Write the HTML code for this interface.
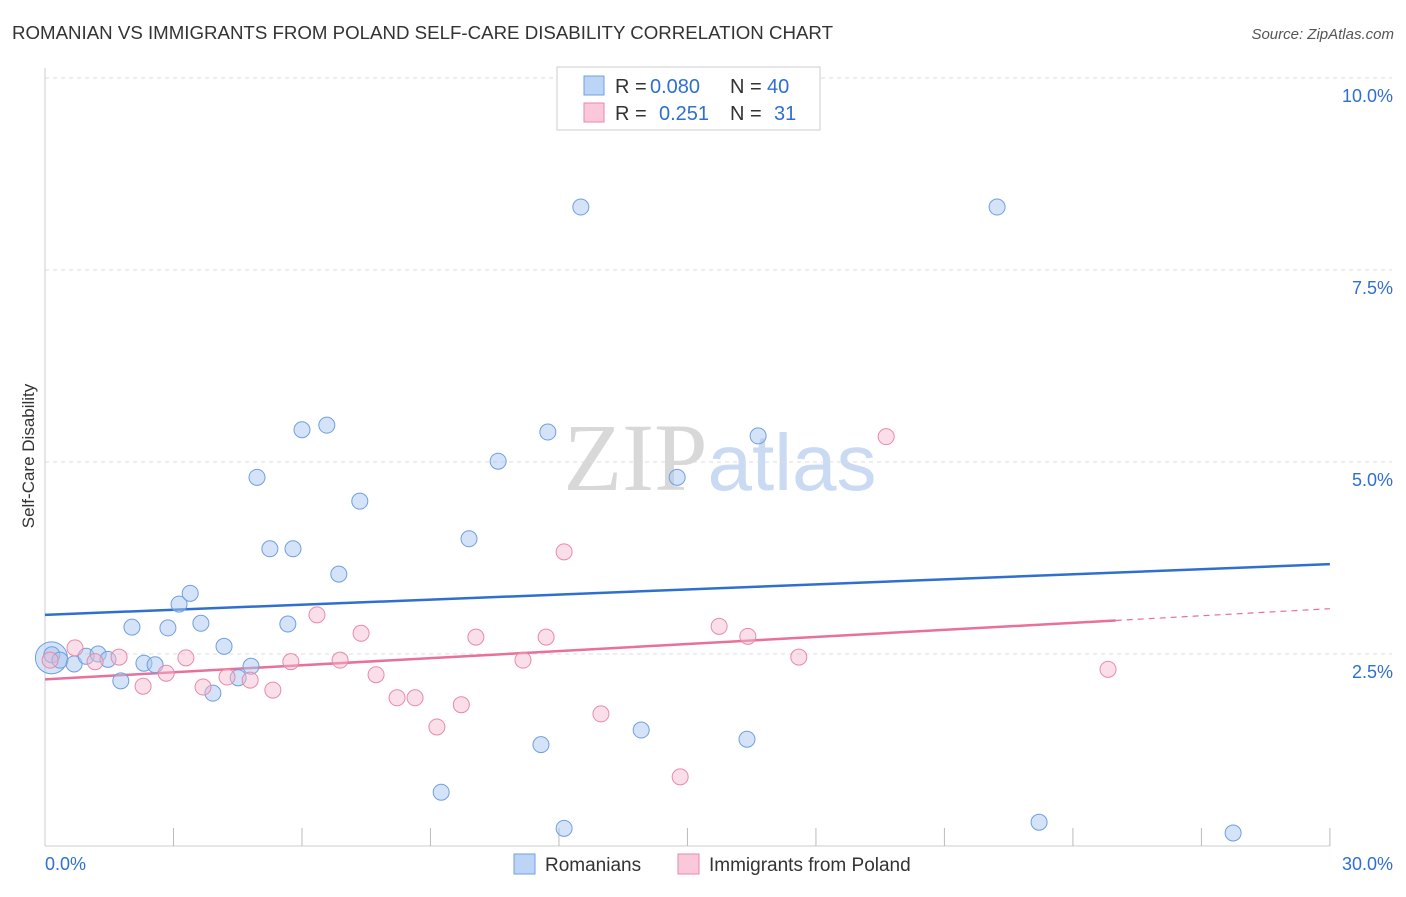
<!DOCTYPE html>
<html><head><meta charset="utf-8"><style>
body{margin:0;background:#fff;font-family:"Liberation Sans",sans-serif;}
svg text{font-family:"Liberation Sans",sans-serif;}
</style></head><body>
<svg id="chart" width="1406" height="892" xmlns="http://www.w3.org/2000/svg">
<text x="12" y="39" font-size="18" fill="#333" textLength="821" lengthAdjust="spacingAndGlyphs">ROMANIAN VS IMMIGRANTS FROM POLAND SELF-CARE DISABILITY CORRELATION CHART</text>
<text x="1394" y="39" font-size="15" fill="#555" text-anchor="end" font-style="italic">Source: ZipAtlas.com</text>
<text x="720" y="490" font-size="96" text-anchor="middle"><tspan fill="#d8d8d8" font-family="Liberation Serif">ZIP</tspan><tspan fill="#c9daf2" font-size="80">atlas</tspan></text>
<g id="grid"></g>
<g id="axes"></g>
<g id="lines"></g>
<g id="pts"></g>
<text transform="translate(34,456) rotate(-90)" font-size="17" fill="#333" text-anchor="middle">Self-Care Disability</text>
<g>
<rect x="557" y="67" width="263" height="63" fill="#fff" stroke="#ccc"/>
<rect x="584" y="76" width="20" height="19" fill="#bcd4f5" stroke="#6f9fe0"/>
<rect x="584" y="103" width="20" height="19" fill="#fac8d8" stroke="#e88aa8"/>
<text x="615" y="93" font-size="20" fill="#333">R =</text>
<text x="650" y="93" font-size="20" fill="#2f6fd0">0.080</text>
<text x="730" y="93" font-size="20" fill="#333">N =</text>
<text x="767" y="93" font-size="20" fill="#2f6fd0">40</text>
<text x="615" y="120" font-size="20" fill="#333">R =</text>
<text x="659" y="120" font-size="20" fill="#2f6fd0">0.251</text>
<text x="730" y="120" font-size="20" fill="#333">N =</text>
<text x="774" y="120" font-size="20" fill="#2f6fd0">31</text>
</g>
<g>
<rect x="514" y="854" width="21" height="20" fill="#bcd4f5" stroke="#6f9fe0"/>
<text x="545" y="871" font-size="19" fill="#333">Romanians</text>
<rect x="678" y="854" width="21" height="20" fill="#fac8d8" stroke="#e88aa8"/>
<text x="709" y="871" font-size="19" fill="#333">Immigrants from Poland</text>
</g>
</svg>
<script>
const blueX=[0.16,0.35,0.68,0.96,1.24,1.47,1.77,2.03,2.31,2.57,2.87,3.13,3.39,3.64,3.92,4.18,4.51,4.81,4.95,5.25,5.67,5.79,6.0,6.58,6.86,7.35,9.25,9.9,10.58,11.58,11.74,12.12,12.51,13.92,14.76,16.39,16.65,22.23,23.21,27.74];
const blueY=[2.49,2.42,2.37,2.47,2.5,2.43,2.15,2.85,2.38,2.36,2.84,3.15,3.29,2.9,1.99,2.6,2.19,2.34,4.8,3.87,2.89,3.87,5.42,5.48,3.54,4.49,0.7,4.0,5.01,1.32,5.39,0.23,8.32,1.51,4.8,1.39,5.34,8.32,0.31,0.17];
const pinkX=[0.12,0.7,1.17,1.73,2.29,2.83,3.29,3.69,4.25,4.79,5.32,5.74,6.35,6.89,7.38,7.73,8.22,8.64,9.15,9.72,10.06,11.16,11.7,12.12,12.98,14.83,15.74,16.41,17.6,19.64,24.82];
const pinkY=[2.42,2.58,2.4,2.46,2.08,2.25,2.45,2.07,2.2,2.16,2.03,2.4,3.01,2.42,2.77,2.23,1.93,1.93,1.55,1.84,2.72,2.42,2.72,3.83,1.72,0.9,2.86,2.73,2.46,5.33,2.3];
const blueTrend=[3.01,3.67];
const pinkTrend=[2.17,3.09];
const yTicks=[2.5,5.0,7.5,10.0];
const xTicks=[3,6,9,12,15,18,21,24,27,30];
const NS="http://www.w3.org/2000/svg";
const sx=v=>45+v*42.83, sy=v=>846-v*76.8;
function mk(tag,attrs,parent){const e=document.createElementNS(NS,tag);for(const k in attrs)e.setAttribute(k,attrs[k]);document.getElementById(parent).appendChild(e);return e;}
yTicks.forEach(t=>{
 const l=mk('line',{x1:45,x2:1392,y1:sy(t),y2:sy(t),stroke:'#ddd','stroke-dasharray':'4,4'},'grid');
 
 
 const tx=mk('text',{x:1393,y:sy(t)+24,'font-size':18,fill:'#2f6fd0','text-anchor':'end'},'grid');
 tx.textContent=t.toFixed(1)+'%';
 
 
});
const ax=mk('line',{x1:45,x2:45,y1:68,y2:846,stroke:'#ccc'},'axes');


const bx=mk('line',{x1:45,x2:1330,y1:846,y2:846,stroke:'#ccc'},'axes');


xTicks.forEach(t=>{
 const l=mk('line',{x1:sx(t),x2:sx(t),y1:828,y2:846,stroke:'#bbb'},'axes');
 
 
});
const x0=mk('text',{x:45,y:870,'font-size':18,fill:'#2f6fd0'},'axes');x0.textContent='0.0%';


const x1=mk('text',{x:1393,y:870,'font-size':18,fill:'#2f6fd0','text-anchor':'end'},'axes');x1.textContent='30.0%';


const bl=mk('line',{x1:sx(0),y1:sy(blueTrend[0]),x2:sx(30),y2:sy(blueTrend[1]),stroke:'#2f6fd0','stroke-width':2.5},'lines');


const pAt=x=>pinkTrend[0]+(pinkTrend[1]-pinkTrend[0])*x/30;
const pl=mk('line',{x1:sx(0),y1:sy(pAt(0)),x2:sx(25),y2:sy(pAt(25)),stroke:'#e8709a','stroke-width':2.5},'lines');


const pd=mk('line',{x1:sx(25),y1:sy(pAt(25)),x2:sx(30),y2:sy(pAt(30)),stroke:'#e8709a','stroke-width':1.2,'stroke-dasharray':'6,5'},'lines');


const big=mk('circle',{cx:sx(0.15),cy:sy(2.45),r:16,fill:'rgba(169,200,240,0.5)',stroke:'#6f9fe0'},'pts');


blueX.forEach((x,i)=>{
 const c=mk('circle',{cx:sx(x),cy:sy(blueY[i]),r:8,fill:'rgba(169,200,240,0.5)',stroke:'#6f9fe0','stroke-width':1},'pts');
 
 
});
pinkX.forEach((x,i)=>{
 const c=mk('circle',{cx:sx(x),cy:sy(pinkY[i]),r:8,fill:'rgba(247,184,203,0.45)',stroke:'#e88aa8','stroke-width':1},'pts');
 
 
});
</script>
</body></html>
